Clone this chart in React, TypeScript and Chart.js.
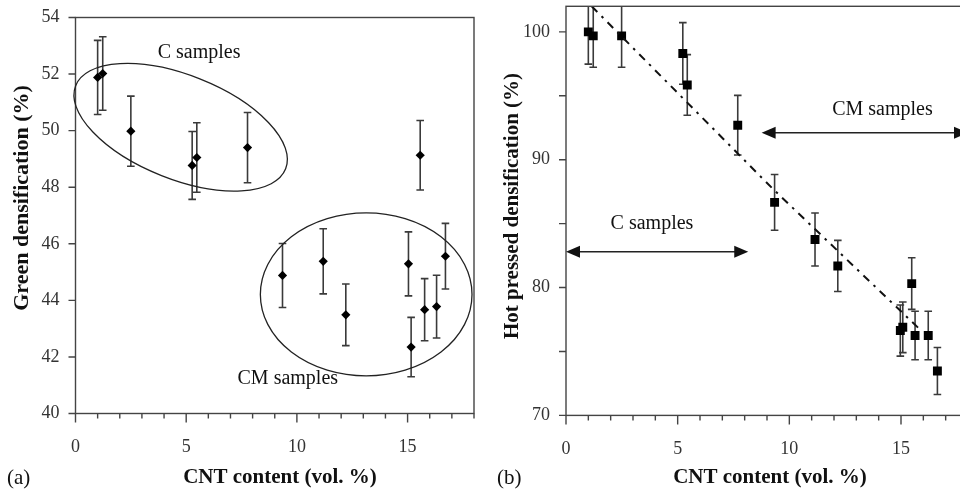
import React, { useEffect, useRef } from 'react';
import { Chart, registerables } from 'chart.js';

Chart.register(...registerables);

// ---------- data ----------
const greenCnt = [1.0, 1.23, 2.5, 5.27, 5.48, 7.77, 9.35, 11.19, 12.21, 15.04, 15.16, 15.57, 15.77, 16.31, 16.71];
const greenDens = [51.88, 52.02, 49.98, 48.77, 49.05, 49.4, 44.88, 45.38, 43.49, 45.29, 42.35, 49.13, 43.67, 43.78, 45.56];
const greenErr = [1.31, 1.3, 1.24, 1.2, 1.23, 1.24, 1.13, 1.15, 1.09, 1.13, 1.05, 1.23, 1.1, 1.11, 1.16];

const hotCnt = [1.0, 1.22, 2.49, 5.23, 5.43, 7.69, 9.34, 11.15, 12.17, 14.97, 15.08, 15.48, 15.63, 16.22, 16.63];
const hotDens = [100.0, 99.69, 99.69, 98.31, 95.85, 92.7, 86.66, 83.76, 81.69, 76.64, 76.89, 80.31, 76.25, 76.25, 73.47];
const hotErr = [2.52, 2.46, 2.46, 2.41, 2.37, 2.33, 2.18, 2.07, 2.0, 2.0, 1.98, 2.02, 1.9, 1.9, 1.84];

const trendCnt = [1.15, 9.28, 15.82];
const trendDens = [102, 87.69, 76.77];

const xTitle = 'CNT content (vol. %)';
const greenTitle = 'Green densification (%)';
const hotTitle = 'Hot pressed densification (%)';

// ---------- styles ----------
const FONT = '"Liberation Serif", "Times New Roman", serif';
const INK = '#222';
const AXIS = '#444';

type Ctx = CanvasRenderingContext2D;

function drawErrorBars(chart: any, xs: number[], ys: number[], errs: number[]) {
  const { ctx, chartArea: a, scales } = chart;
  const x = scales.x, y = scales.y;
  ctx.save();
  ctx.beginPath();
  ctx.rect(a.left, a.top, a.right - a.left, a.bottom - a.top);
  ctx.clip();
  ctx.strokeStyle = '#3a3a3a';
  ctx.lineWidth = 1.6;
  for (let i = 0; i < xs.length; i++) {
    const px = x.getPixelForValue(xs[i]);
    const t = y.getPixelForValue(ys[i] + errs[i]);
    const b = y.getPixelForValue(ys[i] - errs[i]);
    ctx.beginPath();
    ctx.moveTo(px, t); ctx.lineTo(px, b);
    ctx.moveTo(px - 3.8, t); ctx.lineTo(px + 3.8, t);
    ctx.moveTo(px - 3.8, b); ctx.lineTo(px + 3.8, b);
    ctx.stroke();
  }
  ctx.restore();
}

function drawFrameAndTicks(chart: any) {
  const { ctx, chartArea: a, scales } = chart;
  const x = scales.x, y = scales.y;
  ctx.save();
  ctx.strokeStyle = AXIS;
  ctx.lineWidth = 1.4;
  ctx.strokeRect(a.left, a.top, a.right - a.left, a.bottom - a.top);
  ctx.beginPath();
  x.ticks.forEach((t: any) => {
    const px = x.getPixelForValue(t.value);
    const len = t.value % 5 === 0 ? 9 : 5;
    ctx.moveTo(px, a.bottom);
    ctx.lineTo(px, a.bottom + len);
  });
  y.ticks.forEach((t: any) => {
    const py = y.getPixelForValue(t.value);
    ctx.moveTo(a.left - 7, py);
    ctx.lineTo(a.left, py);
  });
  ctx.stroke();
  ctx.restore();
}

function text(ctx: Ctx, s: string, x: number, y: number, font: string, align: CanvasTextAlign = 'center', rot = 0) {
  ctx.save();
  ctx.fillStyle = '#111';
  ctx.font = font;
  ctx.textAlign = align;
  ctx.textBaseline = 'middle';
  ctx.translate(x, y);
  if (rot) ctx.rotate(rot);
  ctx.fillText(s, 0, 0);
  ctx.restore();
}

function arrowHead(ctx: Ctx, tipX: number, y: number, dir: number) {
  ctx.beginPath();
  ctx.moveTo(tipX, y);
  ctx.lineTo(tipX - dir * 14, y - 6);
  ctx.lineTo(tipX - dir * 14, y + 6);
  ctx.closePath();
  ctx.fill();
}

function drawArrow(chart: any, x1: number, x2: number, yv: number) {
  const { ctx, scales } = chart;
  const p1 = scales.x.getPixelForValue(x1);
  const p2 = scales.x.getPixelForValue(x2);
  const py = scales.y.getPixelForValue(yv);
  ctx.save();
  ctx.strokeStyle = INK;
  ctx.fillStyle = '#111';
  ctx.lineWidth = 1.5;
  ctx.beginPath();
  ctx.moveTo(p1 + 10, py);
  ctx.lineTo(p2 - 10, py);
  ctx.stroke();
  arrowHead(ctx, p1, py, -1);
  arrowHead(ctx, p2, py, 1);
  ctx.restore();
}

function zeroPad(s: any) {
  s.paddingTop = 0;
  s.paddingBottom = 0;
  s.paddingLeft = 0;
  s.paddingRight = 0;
}

function baseOptions(p: {
  yMin: number; yMax: number; yStep: number; yLabelEvery: number;
  padTop: number; padRight: number; yAxisWidth: number; xAxisHeight: number;
}) {
  const tickFont = { family: FONT, size: 18 };
  return {
    responsive: false,
    maintainAspectRatio: false,
    animation: false,
    events: [],
    layout: { padding: { top: p.padTop, right: p.padRight, left: 0, bottom: 0 } },
    plugins: { legend: { display: false }, tooltip: { enabled: false }, title: { display: false } },
    scales: {
      x: {
        type: 'linear',
        min: 0,
        max: 18,
        grid: { display: false, drawTicks: false },
        border: { display: false },
        ticks: {
          stepSize: 1,
          autoSkip: false,
          maxRotation: 0,
          padding: 23,
          color: '#333',
          font: tickFont,
          callback: (v: any) => (Number(v) % 5 === 0 ? String(v) : ''),
        },
        afterFit: (s: any) => { s.height = p.xAxisHeight; zeroPad(s); },
      },
      y: {
        type: 'linear',
        min: p.yMin,
        max: p.yMax,
        grid: { display: false, drawTicks: false },
        border: { display: false },
        ticks: {
          stepSize: p.yStep,
          includeBounds: false,
          autoSkip: false,
          padding: 16,
          color: '#333',
          font: tickFont,
          callback: (v: any) => (Number(v) % p.yLabelEvery === 0 ? String(v) : ''),
        },
        afterFit: (s: any) => { s.width = p.yAxisWidth; zeroPad(s); },
      },
    },
  };
}

function greenConfig(): any {
  const decor = {
    id: 'greenDecor',
    beforeDatasetsDraw(chart: any) {
      drawErrorBars(chart, greenCnt, greenDens, greenErr);
    },
    afterDraw(chart: any) {
      const { ctx, scales } = chart;
      const x = scales.x, y = scales.y;
      const ux = x.getPixelForValue(1) - x.getPixelForValue(0);
      drawFrameAndTicks(chart);
      ctx.save();
      ctx.strokeStyle = INK;
      ctx.lineWidth = 1.3;
      // C samples ellipse (tilted)
      ctx.beginPath();
      ctx.ellipse(x.getPixelForValue(4.75), y.getPixelForValue(50.12), 5.1 * ux, 2.35 * ux, (21.6 * Math.PI) / 180, 0, Math.PI * 2);
      ctx.stroke();
      // CM samples ellipse
      ctx.beginPath();
      ctx.ellipse(
        x.getPixelForValue(13.13), y.getPixelForValue(44.21),
        Math.abs(x.getPixelForValue(4.78) - x.getPixelForValue(0)),
        Math.abs(y.getPixelForValue(40) - y.getPixelForValue(42.88)),
        0, 0, Math.PI * 2);
      ctx.stroke();
      ctx.restore();
      const f = `20px ${FONT}`;
      text(ctx, 'C samples', x.getPixelForValue(5.58), y.getPixelForValue(52.77), f);
      text(ctx, 'CM samples', x.getPixelForValue(9.59), y.getPixelForValue(41.22), f);
      text(ctx, xTitle, 280, 478, `bold 21px ${FONT}`);
      text(ctx, '(a)', 7, 478, `21px ${FONT}`, 'left');
      text(ctx, greenTitle, 22, 198, `bold 22px ${FONT}`, 'center', -Math.PI / 2);
    },
  };
  return {
    type: 'scatter',
    data: {
      datasets: [
        {
          data: greenCnt.map((v, i) => ({ x: v, y: greenDens[i] })),
          pointStyle: 'rectRot',
          pointRadius: 4.6,
          backgroundColor: '#000',
          borderWidth: 0,
        },
      ],
    },
    options: baseOptions({ yMin: 40, yMax: 54, yStep: 2, yLabelEvery: 2, padTop: 17.5, padRight: 6, yAxisWidth: 75.5, xAxisHeight: 76.5 }),
    plugins: [decor],
  };
}

function hotConfig(): any {
  const decor = {
    id: 'hotDecor',
    beforeDatasetsDraw(chart: any) {
      drawErrorBars(chart, hotCnt, hotDens, hotErr);
    },
    afterDraw(chart: any) {
      const { ctx, scales } = chart;
      const x = scales.x, y = scales.y;
      drawFrameAndTicks(chart);
      drawArrow(chart, 0, 8.16, 82.8);
      drawArrow(chart, 8.76, 18, 92.1);
      const f = `20px ${FONT}`;
      text(ctx, 'C samples', x.getPixelForValue(3.85), y.getPixelForValue(84.97), f);
      text(ctx, 'CM samples', x.getPixelForValue(14.17), y.getPixelForValue(93.94), f);
      text(ctx, xTitle, 290, 478, `bold 21px ${FONT}`);
      text(ctx, '(b)', 17, 478, `21px ${FONT}`, 'left');
      text(ctx, hotTitle, 33, 206, `bold 21px ${FONT}`, 'center', -Math.PI / 2);
    },
  };
  return {
    type: 'scatter',
    data: {
      datasets: [
        {
          data: trendCnt.map((v, i) => ({ x: v, y: trendDens[i] })),
          showLine: true,
          borderColor: '#111',
          borderWidth: 2,
          borderDash: [8, 6, 2.5, 6],
          pointRadius: 0,
          tension: 0,
        },
        {
          data: hotCnt.map((v, i) => ({ x: v, y: hotDens[i] })),
          pointStyle: 'rect',
          pointRadius: 6.3,
          backgroundColor: '#000',
          borderWidth: 0,
        },
      ],
    },
    options: baseOptions({ yMin: 70, yMax: 102, yStep: 5, yLabelEvery: 10, padTop: 4, padRight: 12, yAxisWidth: 86, xAxisHeight: 74.6 }),
    plugins: [decor],
  };
}

function ChartCanvas({ build, left, width, height }: { build: () => any; left: number; width: number; height: number }) {
  const ref = useRef<HTMLCanvasElement | null>(null);
  useEffect(() => {
    if (!ref.current) return;
    const chart = new Chart(ref.current, build());
    return () => chart.destroy();
  }, [build]);
  return (
    <canvas
      ref={ref}
      width={width}
      height={height}
      style={{ position: 'absolute', left, top: 0, width, height, display: 'block' }}
    />
  );
}

export default function App() {
  return (
    <div style={{ position: 'absolute', left: 0, top: 0, width: 960, height: 490, overflow: 'hidden', background: '#fff' }}>
      <ChartCanvas build={greenConfig} left={0} width={480} height={490} />
      <ChartCanvas build={hotConfig} left={480} width={500} height={490} />
    </div>
  );
}
